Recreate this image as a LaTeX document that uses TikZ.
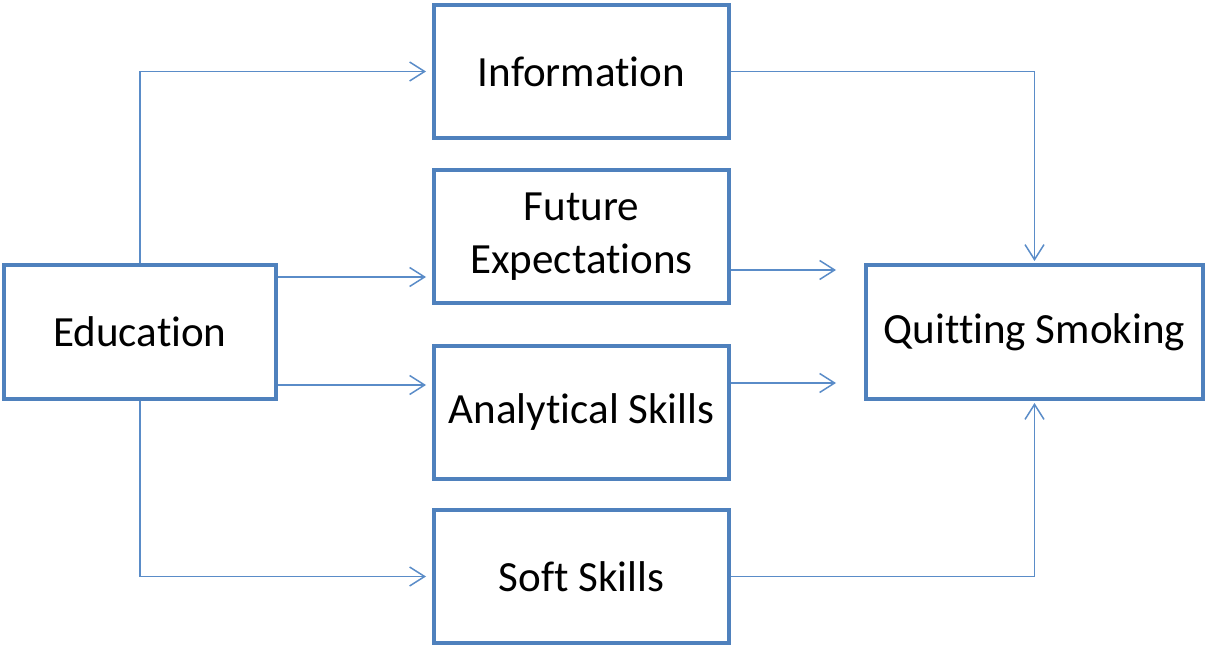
\documentclass[tikz,border=0pt]{standalone}
\usepackage{fontspec}
\setmainfont{Carlito}[Ligatures=NoCommon]
\usepackage{tikz}
\usetikzlibrary{arrows.meta, positioning}
\usepackage{xcolor}
\definecolor{boxblue}{RGB}{79,129,189}
\definecolor{linkblue}{RGB}{90,140,200}

\begin{document}
\begin{tikzpicture}[
        block/.style={rectangle, draw=boxblue, fill=white, line width=0.08cm, minimum width=5.9cm, minimum height=2.66cm, align=center, font=\fontsize{24.5}{30}\selectfont},
        arrow/.style={draw=linkblue, line width=0.03cm, -{Straight Barb[length=0.3cm, width=0.38cm]}}
    ]
        \useasboundingbox (0,0) rectangle (24.16,-12.94);

        \node [block] (info) at (11.63,-1.43) {Information};
        \node [block, below=0.56cm of info] (future) {Future\\Expectations};
        \node [block, below=0.78cm of future] (analytic) {Analytical Skills};
        \node [block, below=0.54cm of analytic] (soft) {Soft Skills};
        \node [block, minimum width=5.44cm, minimum height=2.68cm] (educ) at (2.8,-6.64) {Education};
        \node [block, minimum width=6.74cm, minimum height=2.68cm] (quit) at (20.69,-6.64) {Quitting Smoking};

        % education feeds the four channels
        \draw [arrow, shorten >=0.12cm] (educ.north) |- (info.west);
        \draw [arrow, shorten >=0.12cm] ([yshift=1.1cm]educ.east) -- ([yshift=1.1cm]educ.east -| future.west);
        \draw [arrow, shorten >=0.12cm] ([yshift=-1.06cm]educ.east) -- ([yshift=-1.06cm]educ.east -| analytic.west);
        \draw [arrow, shorten >=0.12cm] (educ.south) |- (soft.west);

        % channels lead to quitting
        \draw [arrow, shorten >=0.04cm] (info.east) -| (quit.north);
        \draw [arrow, shorten >=0.56cm] ([yshift=-0.67cm]future.east) -- ([yshift=-0.67cm]future.east -| quit.west);
        \draw [arrow, shorten >=0.56cm] ([yshift=0.59cm]analytic.east) -- ([yshift=0.59cm]analytic.east -| quit.west);
        \draw [arrow, shorten >=0.04cm] (soft.east) -| (quit.south);
    \end{tikzpicture}
\end{document}
